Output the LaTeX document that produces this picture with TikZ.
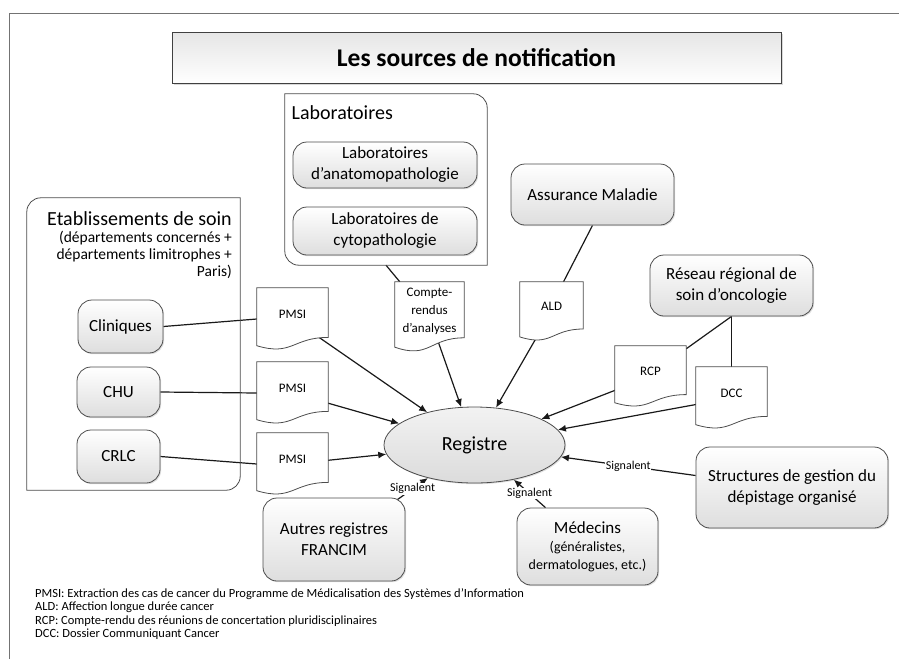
\documentclass[tikz,border=0pt]{standalone}
\usepackage{fontspec}
\setmainfont{Carlito}
\usetikzlibrary{calc,arrows.meta,shadows,backgrounds,shapes.geometric}

\tikzset{
  conn/.style={draw=black!90, line width=1.2pt},
  arr/.style={conn, -{Latex[length=8pt,width=7pt]}},
  shd/.style={drop shadow={shadow xshift=1.2pt, shadow yshift=-1.2pt, opacity=0.25}},
  box/.style={draw=black!70, line width=0.8pt, rounded corners=14pt, top color=white,
    bottom color=black!13, align=center, inner sep=0pt, shd,
    font=\fontsize{17}{21}\selectfont},
  titlebox/.style={draw=black!75, line width=0.9pt, top color=black!10, bottom color=white,
    inner sep=0pt, font=\fontsize{25.5}{30}\selectfont\bfseries,
    drop shadow={shadow xshift=1.5pt, shadow yshift=-1.5pt, opacity=0.3}},
  plain/.style={draw=none, inner sep=0pt},
  outer/.style={draw=black!70, line width=0.8pt},
  hdr/.style={inner sep=0pt, font=\fontsize{20}{24}\selectfont},
  docnode/.style={draw=none, inner sep=0pt},
  docline/.style={draw=black!70, line width=0.8pt, fill=white},
  doctext/.style={inner sep=0pt, align=center, font=\fontsize{13}{18}\selectfont},
  sig/.style={fill=white, inner sep=0.6pt, font=\fontsize{12}{14}\selectfont},
  frame/.style={draw=black!55, line width=0.9pt}
}

\newcommand\docshape[6]{%
  \node[docnode, minimum width=#4pt, minimum height=#5pt] (#1) at (#2,#3+#5/2) {};
  \draw[docline] (#1.north west) -- (#1.north east) -- ($(#1.north east)+(0,0.8*#5)$)
    .. controls ($(#1.north)+(0,0.8*#5)$) and ($(#1.north)+(0,1.107*#5)$) ..
    ($(#1.north west)+(0,0.934*#5)$) -- cycle;
  \node[doctext] (#1t) at ($(#1.north)+(0,0.42*#5)$) {#6};
}

\begin{document}
\begin{tikzpicture}[x=1pt,y=-1pt]
\useasboundingbox (0,0) rectangle (899,659);

% frame
\draw[frame] (9,659) -- (9,13) -- (899,13);

% title
\node[titlebox, minimum width=609pt, minimum height=51pt] (title) at (476.5,57.5) {Les sources de notification};

% Laboratoires group
\node[plain, minimum width=202pt, minimum height=171pt] (labouter) at (386,179.5) {};
\draw[outer] (labouter.north west) -- ([xshift=-14pt]labouter.north east)
  arc[start angle=90,end angle=0,radius=14pt] -- (labouter.south east)
  -- ([xshift=14pt]labouter.south west) arc[start angle=270,end angle=180,radius=14pt] -- cycle;
\node[hdr, anchor=west] (labhdr) at (291.5,113) {Laboratoires};
\node[box, minimum width=184pt, minimum height=46pt] (labana) at (385,165) {Laboratoires\\d’anatomopathologie};
\node[box, minimum width=184pt, minimum height=48pt] (labcyto) at (385,231) {Laboratoires de\\cytopathologie};

% Etablissements group
\node[plain, minimum width=213pt, minimum height=292pt] (etab) at (133.5,344) {};
\draw[outer] ([yshift=-14pt]etab.north west) arc[start angle=180,end angle=90,radius=14pt]
  -- (etab.north east) -- ([yshift=14pt]etab.south east)
  arc[start angle=0,end angle=-90,radius=14pt] -- (etab.south west) -- cycle;
\node[hdr, anchor=east] (etabhdr) at (232,219) {Etablissements de soin};
\node[inner sep=0pt, anchor=north east, align=right, font=\fontsize{15.5}{17}\selectfont] (etabsub) at (232,230.5)
  {(départements concernés +\\départements limitrophes +\\Paris)};
\node[box, minimum width=85pt, minimum height=53pt] (cliniques) at (120.5,326.5) {Cliniques};
\node[box, minimum width=83pt, minimum height=50pt] (chu) at (118.5,392) {CHU};
\node[box, minimum width=83pt, minimum height=53pt] (crlc) at (118.5,456.5) {CRLC};

% other sources
\node[box, minimum width=163pt, minimum height=61pt] (assur) at (592.5,194.5) {Assurance Maladie};
\node[box, minimum width=163pt, minimum height=61pt] (reseau) at (731.5,285.5) {Réseau régional de\\soin d’oncologie};
\node[box, minimum width=192pt, minimum height=81pt] (structures) at (792,487.5) {Structures de gestion du\\dépistage organisé};
\node[box, minimum width=142pt, minimum height=83pt] (autres) at (334,539.5) {Autres registres\\FRANCIM};
\node[box, minimum width=141pt, minimum height=77pt, font=\fontsize{14}{18}\selectfont] (medecins) at (587.5,546.5)
  {{\fontsize{17}{21}\selectfont Médecins}\\(généralistes,\\dermatologues, etc.)};

% Registre
\node[ellipse, draw=black!70, line width=0.8pt, top color=black!5, bottom color=black!14, shd,
  minimum width=181pt, minimum height=76pt, inner sep=0pt, font=\fontsize{20}{24}\selectfont] (registre) at (474.5,445) {Registre};

% documents
\docshape{pmsi1}{292.5}{288}{71}{62}{PMSI}
\docshape{pmsi2}{292.5}{362}{71}{62}{PMSI}
\docshape{pmsi3}{292.5}{433}{71}{62}{PMSI}
\docshape{compte}{429.5}{282}{69}{70}{Compte-\\rendus\\d’analyses}
\docshape{ald}{551.5}{282}{63}{59}{ALD}
\docshape{rcp}{650.5}{346}{71}{61}{RCP}
\docshape{dcc}{731.5}{367}{71}{62}{DCC}

% connectors
\begin{scope}[on background layer]
  \draw[conn] (cliniques.east) -- (pmsi1.west);
  \draw[conn] (chu.east) -- (pmsi2.west);
  \draw[conn] (crlc.east) -- (pmsi3.west);
  \draw[conn] (labouter.south) -- ($(compte.north west)+(5,0)$);
  \draw[conn] (assur.south) -- ($(ald.north)+(12,0)$);
  \draw[conn] (reseau.south) -- ($(rcp.north east)+(0,3)$);
  \draw[conn] (reseau.south) -- (dcc.north);
  \draw[arr] (pmsi1.center) -- (registre);
  \draw[arr] (pmsi2.center) -- (registre);
  \draw[arr] (pmsi3.center) -- (registre);
  \draw[arr] (compte.center) -- (registre);
  \draw[arr] (ald.center) -- (registre);
  \draw[arr] (rcp.center) -- (registre);
  \draw[arr] (dcc.center) -- (registre);
  \draw[arr] ($(structures.west)+(0,-12)$) -- node[sig, pos=0.5] (sig3) {Signalent} (registre);
  \draw[arr] ($(autres.north east)+(-8,2)$) -- node[sig, pos=0.5] (sig1) {Signalent} (registre);
  \draw[arr] ($(medecins.north)+(-42,0)$) -- node[sig, pos=0.5] (sig2) {Signalent} (registre);
\end{scope}

% legend
\node[anchor=north west, align=left, inner sep=0pt, font=\fontsize{12.5}{13.6}\selectfont] (legend) at (35,588)
  {PMSI: Extraction des cas de cancer du Programme de Médicalisation des Systèmes d’Information\\
   ALD: Affection longue durée cancer\\
   RCP: Compte-rendu des réunions de concertation pluridisciplinaires\\
   DCC: Dossier Communiquant Cancer};
\end{tikzpicture}
\end{document}
